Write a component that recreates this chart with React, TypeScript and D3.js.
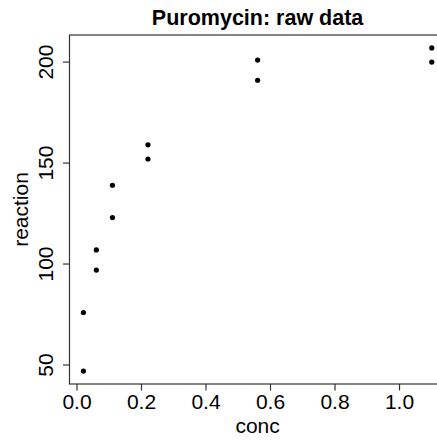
import React from "react";
import * as d3 from "d3";

const conc = [0.02, 0.02, 0.06, 0.06, 0.11, 0.11, 0.22, 0.22, 0.56, 0.56, 1.1, 1.1];
const rate = [76, 47, 97, 107, 123, 139, 159, 152, 191, 201, 207, 200];
const xTicks = [0, 0.2, 0.4, 0.6, 0.8, 1.0];
const yTicks = [50, 100, 150, 200];

const W = 437, H = 440;
const left = 69.5, right = 445.7, top = 35, bottom = 384;

export default function App() {
  const xr = d3.extent(conc) as [number, number];
  const yr = d3.extent(rate) as [number, number];
  const xp = (xr[1] - xr[0]) * 0.04;
  const yp = (yr[1] - yr[0]) * 0.04;
  const x = d3.scaleLinear().domain([xr[0] - xp, xr[1] + xp]).range([left, right]);
  const y = d3.scaleLinear().domain([yr[0] - yp, yr[1] + yp]).range([bottom, top]);
  const font = "Liberation Sans, Arial, Helvetica, sans-serif";
  const axisColor = "#333";
  return (
    <svg width={W} height={H} style={{ position: "absolute", left: 0, top: 0, background: "#fff" }} fontFamily={font}>
      <rect x={left} y={top} width={right - left} height={bottom - top} fill="none" stroke={axisColor} strokeWidth={1.2} />
      {xTicks.map((t) => (
        <g key={t}>
          <line x1={x(t)} x2={x(t)} y1={bottom} y2={bottom + 6.5} stroke={axisColor} strokeWidth={1.2} />
          <text x={x(t)} y={409.3} fontSize={21} textAnchor="middle" fill="#000">{t.toFixed(1)}</text>
        </g>
      ))}
      {yTicks.map((t) => (
        <g key={t}>
          <line x1={left - 6.5} x2={left} y1={y(t)} y2={y(t)} stroke={axisColor} strokeWidth={1.2} />
          <text transform={`translate(53.3,${y(t)}) rotate(-90)`} fontSize={21} textAnchor="middle" fill="#000">{t}</text>
        </g>
      ))}
      {conc.map((c, i) => (
        <circle key={i} cx={x(c)} cy={y(rate[i])} r={2.6} fill="#000" />
      ))}
      <text x={(left + right) / 2} y={25} fontSize={21.5} fontWeight="bold" textAnchor="middle" fill="#000">Puromycin: raw data</text>
      <text x={(left + right) / 2} y={433} fontSize={21} textAnchor="middle" fill="#000">conc</text>
      <text transform={`translate(28.3,${(top + bottom) / 2}) rotate(-90)`} fontSize={21} textAnchor="middle" fill="#000">reaction</text>
    </svg>
  );
}
